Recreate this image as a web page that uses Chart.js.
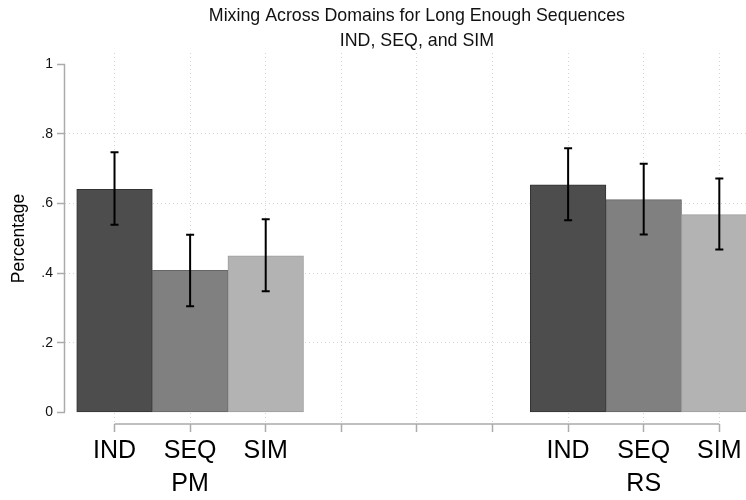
<!DOCTYPE html>
<html>
<head>
<meta charset="utf-8">
<script src="https://cdn.jsdelivr.net/npm/chart.js@4.4.1/dist/chart.umd.min.js"></script>
<style>
    html, body { margin: 0; padding: 0; background: #fff; overflow: hidden; }
    #wrap { width: 746px; height: 500px; }
</style>
</head>
<body>
<div id="wrap"><canvas id="myChart" width="746" height="500"></canvas></div>
<script>
// Chart data
const titleLines = ['Mixing Across Domains for Long Enough Sequences', 'IND, SEQ, and SIM'];
const yTitle = 'Percentage';
const groups = ['PM', 'RS'];
const conditions = ['IND', 'SEQ', 'SIM'];
const pmValues = [0.641, 0.408, 0.450];
const pmLow = [0.539, 0.305, 0.348];
const pmHigh = [0.747, 0.510, 0.555];
const rsValues = [0.654, 0.611, 0.568];
const rsLow = [0.552, 0.511, 0.468];
const rsHigh = [0.759, 0.714, 0.672];
const yTicks = [0, 0.2, 0.4, 0.6, 0.8, 1];
const yTickLabels = ['0', '.2', '.4', '.6', '.8', '1'];

const FONT = "'Liberation Sans', Arial, sans-serif";
const barColors = ['#4d4d4d', '#808080', '#b3b3b3'];
const barBorders = ['#333333', '#666666', '#9e9e9e'];
const emptySlots = 3; // blank positions between the two groups

// Build slots: each group gets its conditions, then empty slots between groups
const groupValues = [pmValues, rsValues];
const groupLow = [pmLow, rsLow];
const groupHigh = [pmHigh, rsHigh];
const slotsPerGroup = conditions.length + emptySlots;
const slotCount = groups.length * conditions.length + (groups.length - 1) * emptySlots;

const points = [];
const lows = [];
const highs = [];
const fills = [];
const borders = [];
groups.forEach((g, gi) => {
    conditions.forEach((c, ci) => {
        points.push({ x: gi * slotsPerGroup + ci, y: groupValues[gi][ci] });
        lows.push(groupLow[gi][ci]);
        highs.push(groupHigh[gi][ci]);
        fills.push(barColors[ci]);
        borders.push(barBorders[ci]);
    });
});

const xTickValues = [];
const xTickLabels = [];
for (let s = 0; s < slotCount; s++) {
    xTickValues.push(s);
    const gi = Math.floor(s / slotsPerGroup);
    const ci = s % slotsPerGroup;
    if (ci < conditions.length) {
        // middle condition carries the group name on a second line
        xTickLabels.push(ci === 1 ? [conditions[ci], groups[gi]] : conditions[ci]);
    } else {
        xTickLabels.push('');
    }
}

// Title centred over the category axis
const titlePlugin = {
    id: 'stataTitle',
    afterDraw(chart) {
        const ctx = chart.ctx;
        const x = chart.scales.x;
        const cx = (x.getPixelForValue(xTickValues[0]) + x.getPixelForValue(xTickValues[xTickValues.length - 1])) / 2;
        ctx.save();
        ctx.fillStyle = '#111';
        ctx.font = '17.8px ' + FONT;
        ctx.textAlign = 'center';
        ctx.textBaseline = 'alphabetic';
        titleLines.forEach((line, i) => ctx.fillText(line, cx, 20.5 + i * 25.5));
        ctx.restore();
    }
};

// Axis lines spanning only the tick range
const axisLinePlugin = {
    id: 'axisLines',
    afterDraw(chart) {
        const ctx = chart.ctx;
        const x = chart.scales.x;
        const y = chart.scales.y;
        ctx.save();
        ctx.strokeStyle = '#ababab';
        ctx.lineWidth = 1.5;
        ctx.beginPath();
        ctx.moveTo(chart.chartArea.left - 0.5, y.getPixelForValue(yTicks[0]));
        ctx.lineTo(chart.chartArea.left - 0.5, y.getPixelForValue(yTicks[yTicks.length - 1]));
        ctx.moveTo(x.getPixelForValue(xTickValues[0]), chart.chartArea.bottom);
        ctx.lineTo(x.getPixelForValue(xTickValues[xTickValues.length - 1]), chart.chartArea.bottom);
        ctx.stroke();
        ctx.restore();
    }
};

// Confidence intervals
const errorBarPlugin = {
    id: 'errorBars',
    afterDatasetsDraw(chart) {
        const ctx = chart.ctx;
        const x = chart.scales.x;
        const y = chart.scales.y;
        ctx.save();
        ctx.strokeStyle = '#000';
        ctx.lineWidth = 2;
        points.forEach((p, i) => {
            const px = x.getPixelForValue(p.x);
            const top = y.getPixelForValue(highs[i]);
            const bot = y.getPixelForValue(lows[i]);
            ctx.beginPath();
            ctx.moveTo(px, top);
            ctx.lineTo(px, bot);
            ctx.moveTo(px - 4, top);
            ctx.lineTo(px + 4, top);
            ctx.moveTo(px - 4, bot);
            ctx.lineTo(px + 4, bot);
            ctx.stroke();
        });
        ctx.restore();
    }
};

function initializeChart() {
    const ctx = document.getElementById('myChart').getContext('2d');
    new Chart(ctx, {
        type: 'bar',
        data: {
            datasets: [{
                data: points,
                backgroundColor: fills,
                borderColor: borders,
                borderWidth: 1,
                borderSkipped: false,
                barPercentage: 1,
                categoryPercentage: 1
            }]
        },
        options: {
            responsive: false,
            animation: false,
            devicePixelRatio: 1,
            layout: { padding: { top: 53, left: 0, right: 0, bottom: 0 } },
            plugins: {
                legend: { display: false },
                tooltip: { enabled: false },
                title: { display: false }
            },
            scales: {
                x: {
                    type: 'linear',
                    offset: false,
                    min: -0.655,
                    max: 8.353,
                    afterBuildTicks: scale => {
                        scale.ticks = xTickValues.map(v => ({ value: v }));
                    },
                    afterFit: scale => { scale.height = 76; },
                    ticks: {
                        autoSkip: false,
                        maxRotation: 0,
                        minRotation: 0,
                        padding: 3,
                        color: '#000',
                        font: { family: FONT, size: 25, lineHeight: 1.32 },
                        callback: (v, i) => xTickLabels[i]
                    },
                    grid: {
                        offset: false,
                        color: '#d4d4d4',
                        lineWidth: 1,
                        tickColor: '#ababab',
                        tickLength: 8,
                        tickWidth: 1.5
                    },
                    border: { display: false, dash: [1, 3] }
                },
                y: {
                    min: -0.0336,
                    max: 1.0325,
                    afterBuildTicks: scale => {
                        scale.ticks = yTicks.map(v => ({ value: v }));
                    },
                    afterFit: scale => { scale.width = 65; },
                    ticks: {
                        padding: 4,
                        color: '#111',
                        font: { family: FONT, size: 14 },
                        callback: (v, i) => yTickLabels[i]
                    },
                    grid: {
                        color: c => (c.tick && (c.tick.value === yTicks[0] || c.tick.value === yTicks[yTicks.length - 1])) ? 'rgba(0,0,0,0)' : '#d4d4d4',
                        lineWidth: 1,
                        tickColor: '#ababab',
                        tickLength: 8,
                        tickWidth: 1.5
                    },
                    border: { display: false, dash: [1, 3] },
                    title: {
                        display: true,
                        text: yTitle,
                        color: '#000',
                        font: { family: FONT, size: 17.5 },
                        padding: { top: 9, bottom: 0 }
                    }
                }
            }
        },
        plugins: [titlePlugin, axisLinePlugin, errorBarPlugin]
    });
}

document.addEventListener('DOMContentLoaded', initializeChart);
</script>
</body>
</html>
